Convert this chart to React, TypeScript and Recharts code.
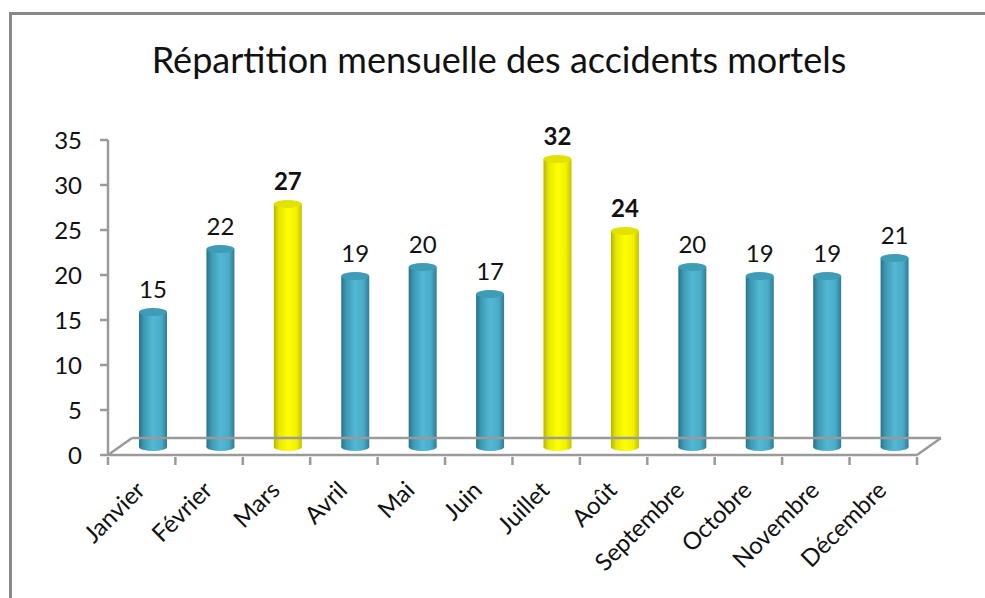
import { Bar, BarChart, LabelList, ReferenceLine, XAxis, YAxis } from 'recharts';

const months = [
	'Janvier',
	'Février',
	'Mars',
	'Avril',
	'Mai',
	'Juin',
	'Juillet',
	'Août',
	'Septembre',
	'Octobre',
	'Novembre',
	'Décembre',
];
const accidents = [15, 22, 27, 19, 20, 17, 32, 24, 20, 19, 19, 21];
const highlighted = ['Mars', 'Juillet', 'Août'];
const yTicks = [0, 5, 10, 15, 20, 25, 30, 35];

const data = months.map((month, i) => ({ month, value: accidents[i] }));

const FONT = 'Lato, "Open Sans", sans-serif';
const AXIS_GRAY = '#9a9a9a';
// 3D depth of the floor, and half of it for where the cylinders stand
const DEPTH_X = 24;
const DEPTH_Y = 17;
const BAR_DX = 11;
const BAR_DY = -8;
const HALF_BAND = 33.75;

function Cylinder(props: any) {
	const { x, y, width, height, payload } = props;
	const hot = highlighted.includes(payload.month);
	const bx = x + BAR_DX;
	const top = y + BAR_DY;
	const bottom = y + height + BAR_DY;
	const rx = width / 2;
	const ry = 4;
	const grad = hot ? 'url(#gradYellow)' : 'url(#gradBlue)';
	return (
		<g>
			<ellipse cx={bx + rx} cy={bottom} rx={rx} ry={ry} fill={grad} />
			<rect x={bx} y={top} width={width} height={bottom - top} fill={grad} />
			<ellipse cx={bx + rx} cy={top} rx={rx} ry={ry} fill={hot ? '#e2e200' : '#3f9cb6'} />
		</g>
	);
}

function ValueLabel(props: any) {
	const { x, y, width, value, index } = props;
	const hot = highlighted.includes(months[index]);
	return (
		<text
			x={x + width / 2 + BAR_DX}
			y={y + BAR_DY - 24}
			textAnchor="middle"
			dominantBaseline="central"
			fontFamily={FONT}
			fontSize={24}
			fontWeight={hot ? 700 : 400}
			fill="#111"
		>
			{value}
		</text>
	);
}

function MonthTick(props: any) {
	const { x, y, payload, index } = props;
	const last = index === months.length - 1;
	const tx = x - 2;
	const ty = y + 20;
	return (
		<g>
			<line x1={x - HALF_BAND} y1={y - 8} x2={x - HALF_BAND} y2={y} stroke={AXIS_GRAY} strokeWidth={2.5} />
			{last && (
				<line x1={x + HALF_BAND} y1={y - 8} x2={x + HALF_BAND} y2={y} stroke={AXIS_GRAY} strokeWidth={2.5} />
			)}
			<text
				x={tx}
				y={ty}
				transform={`rotate(-45 ${tx} ${ty})`}
				textAnchor="end"
				dominantBaseline="central"
				fontFamily={FONT}
				fontSize={24}
				fill="#111"
			>
				{payload.value}
			</text>
		</g>
	);
}

function Floor(props: any) {
	const { x1, x2, y1 } = props;
	const by = y1 - DEPTH_Y;
	return (
		<g stroke={AXIS_GRAY} strokeWidth={2.5} fill="none">
			<line x1={x1 + DEPTH_X} y1={by} x2={x2 + DEPTH_X} y2={by} />
			<line x1={x1} y1={y1} x2={x1 + DEPTH_X} y2={by} />
			<line x1={x2} y1={y1} x2={x2 + DEPTH_X} y2={by} />
		</g>
	);
}

export default function App() {
	return (
		<div style={{ position: 'relative', width: 985, height: 598, background: '#fff', overflow: 'hidden' }}>
			<style>{'body{margin:0}'}</style>
			<div
				style={{
					position: 'absolute',
					left: 9,
					top: 12,
					width: 990,
					height: 600,
					borderLeft: '3px solid #888',
					borderTop: '3px solid #888',
				}}
			/>
			<div
				style={{
					position: 'absolute',
					left: 0,
					top: 37,
					width: 998,
					textAlign: 'center',
					fontFamily: FONT,
					fontSize: 36,
					lineHeight: '44px',
					color: '#111',
				}}
			>
				Répartition mensuelle des accidents mortels
			</div>
			<BarChart
				width={985}
				height={598}
				data={data}
				margin={{ top: 140, right: 68, bottom: 113, left: 0 }}
				barSize={28}
				style={{ position: 'absolute', left: 0, top: 0 }}
			>
				<defs>
					<linearGradient id="gradBlue" x1="0" y1="0" x2="1" y2="0">
						<stop offset="0%" stopColor="#2b7388" />
						<stop offset="18%" stopColor="#3d9ab4" />
						<stop offset="50%" stopColor="#53b8d5" />
						<stop offset="80%" stopColor="#49abc8" />
						<stop offset="100%" stopColor="#2f7c91" />
					</linearGradient>
					<linearGradient id="gradYellow" x1="0" y1="0" x2="1" y2="0">
						<stop offset="0%" stopColor="#b5b500" />
						<stop offset="18%" stopColor="#e6e600" />
						<stop offset="50%" stopColor="#ffff00" />
						<stop offset="80%" stopColor="#f2f200" />
						<stop offset="100%" stopColor="#c2c200" />
					</linearGradient>
				</defs>
				<ReferenceLine y={0} shape={<Floor />} />
				<XAxis
					dataKey="month"
					interval={0}
					height={30}
					axisLine={{ stroke: AXIS_GRAY, strokeWidth: 2.5 }}
					tickLine={false}
					tick={<MonthTick />}
					tickSize={8}
				/>
				<YAxis
					domain={[0, 35]}
					ticks={yTicks}
					width={108}
					axisLine={{ stroke: AXIS_GRAY, strokeWidth: 2.5 }}
					tickLine={{ stroke: AXIS_GRAY, strokeWidth: 2.5 }}
					tickSize={8}
					tick={{ fontFamily: FONT, fontSize: 24, fill: '#111', dx: -16 }}
				/>
				<Bar dataKey="value" shape={<Cylinder />} isAnimationActive={false}>
					<LabelList dataKey="value" content={<ValueLabel />} />
				</Bar>
			</BarChart>
		</div>
	);
}
